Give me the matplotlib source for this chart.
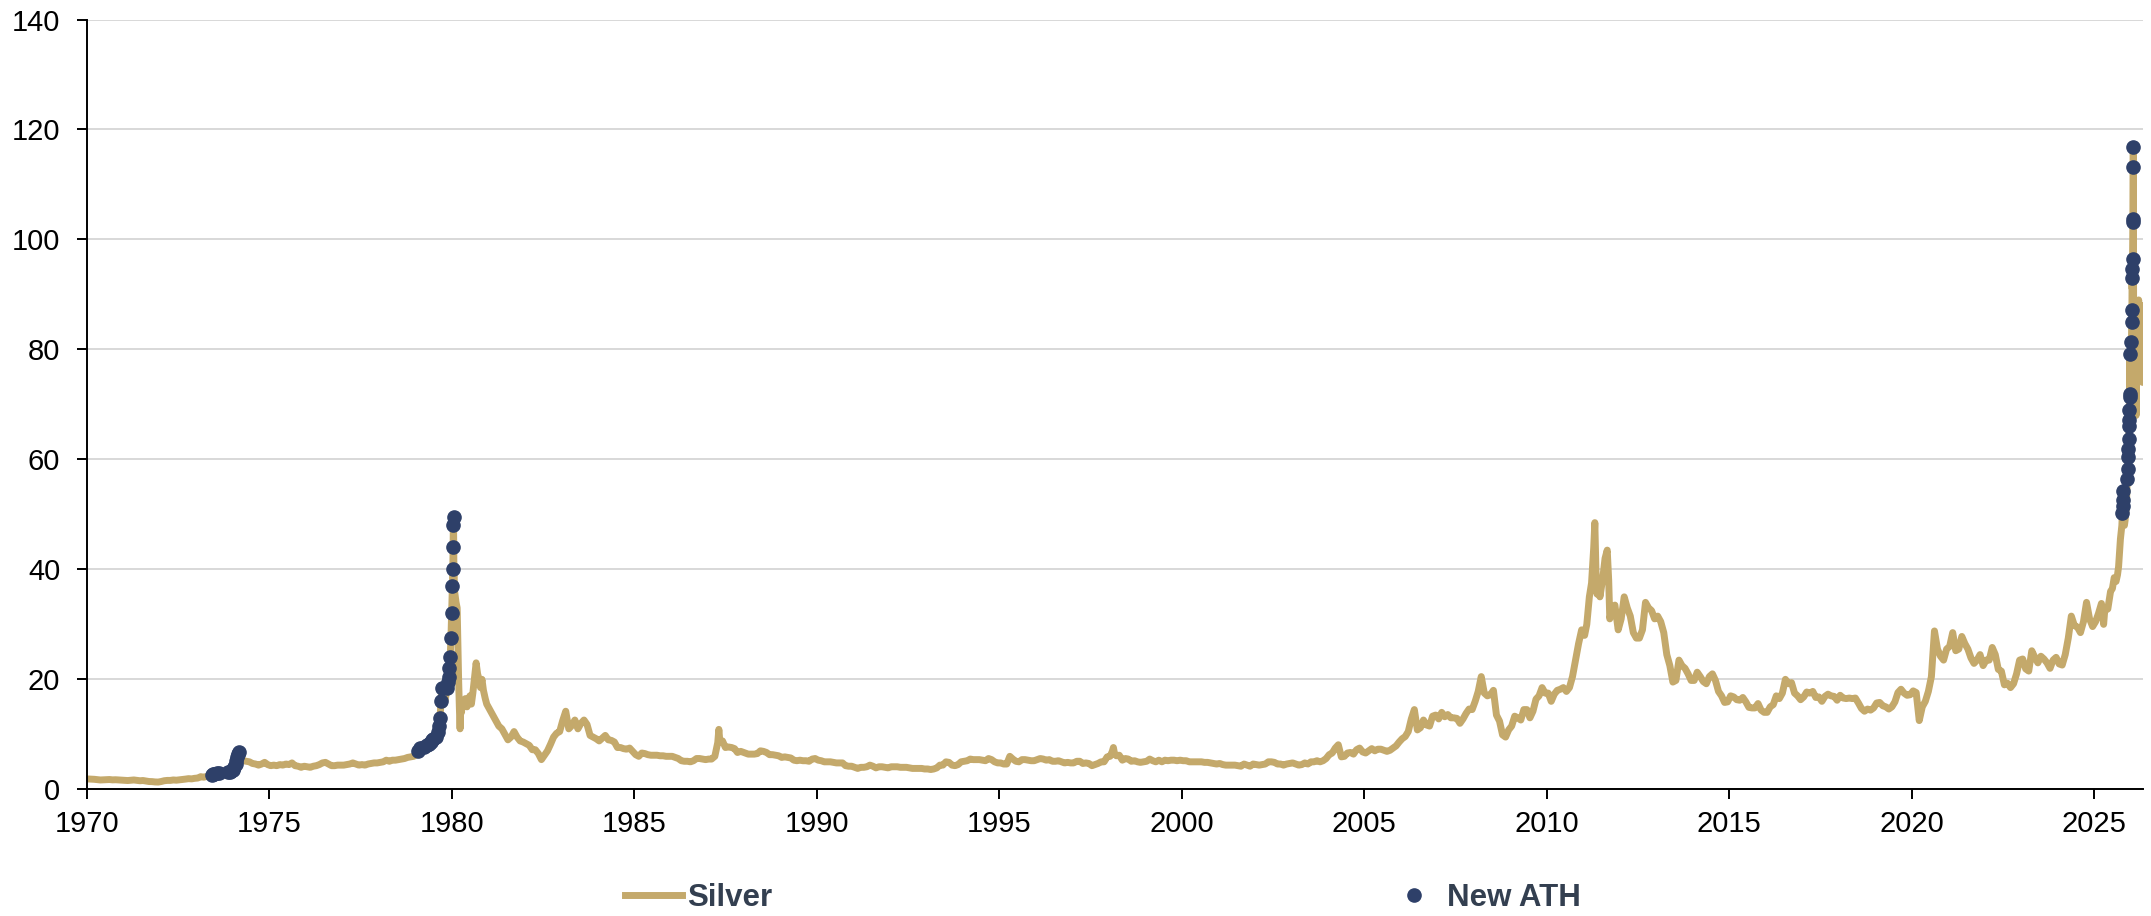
import matplotlib
matplotlib.use("Agg")
import matplotlib.pyplot as plt
from matplotlib.lines import Line2D
import numpy as np

plt.rcParams['font.family'] = ['Liberation Sans', 'DejaVu Sans']

# silver price, USD/oz, monthly averages
p1970_73 = [1.88, 1.86, 1.82, 1.76, 1.70, 1.72, 1.74, 1.78, 1.72, 1.74, 1.70, 1.64,
            1.62, 1.60, 1.66, 1.70, 1.62, 1.56, 1.60, 1.52, 1.42, 1.40, 1.34, 1.32,
            1.42, 1.56, 1.62, 1.62, 1.70, 1.66, 1.72, 1.80, 1.86, 1.94, 1.90, 2.00,
            2.05, 2.30, 2.20, 2.35]
d1973 = [(1973.375, 2.50), (1973.42, 2.62), (1973.46, 2.75), (1973.50, 2.85), (1973.54, 2.75),
         (1973.58, 2.90), (1973.62, 3.05), (1973.67, 2.80), (1973.71, 2.70), (1973.75, 2.85),
         (1973.79, 2.95), (1973.83, 2.90), (1973.87, 3.10), (1973.92, 3.20), (1973.96, 3.25),
         (1974.00, 3.60), (1974.04, 4.00), (1974.08, 4.60), (1974.10, 5.20), (1974.12, 5.90),
         (1974.14, 6.40), (1974.16, 6.70), (1974.18, 5.80), (1974.21, 5.40), (1974.25, 5.60),
         (1974.29, 5.20)]
p1974b = [5.0, 4.7, 4.6, 4.4, 4.6, 4.9, 4.5]  # Jun-Dec 1974
p1975_78 = [4.3, 4.4, 4.3, 4.5, 4.4, 4.6, 4.5, 4.8, 4.3, 4.2, 4.0, 4.2,
            4.1, 4.0, 4.2, 4.3, 4.5, 4.8, 4.9, 4.6, 4.3, 4.3, 4.4, 4.4,
            4.4, 4.5, 4.6, 4.8, 4.6, 4.4, 4.5, 4.4, 4.6, 4.7, 4.8, 4.8,
            4.9, 5.0, 5.3, 5.1, 5.3, 5.3, 5.4, 5.5, 5.6, 5.8, 5.9, 6.0]
d1979 = [(1979.04, 6.3), (1979.08, 6.9), (1979.12, 7.6), (1979.17, 7.4), (1979.21, 7.5),
         (1979.25, 7.7), (1979.29, 7.6), (1979.33, 8.0), (1979.375, 8.3), (1979.42, 8.6),
         (1979.46, 8.9), (1979.50, 9.2), (1979.54, 9.0), (1979.58, 9.6), (1979.62, 10.5),
         (1979.65, 11.5), (1979.68, 13.0), (1979.71, 16.0), (1979.73, 18.4), (1979.75, 17.0),
         (1979.79, 15.5), (1979.83, 16.5), (1979.87, 18.5), (1979.90, 19.5), (1979.92, 20.5),
         (1979.94, 22.0), (1979.96, 24.0), (1979.98, 27.5), (1980.00, 32.0), (1980.02, 37.0),
         (1980.03, 40.0), (1980.04, 44.0), (1980.045, 48.0), (1980.05, 49.5), (1980.06, 41.0),
         (1980.08, 36.0), (1980.10, 35.0), (1980.12, 34.0), (1980.15, 33.0), (1980.17, 26.0),
         (1980.19, 20.0), (1980.21, 15.0), (1980.23, 11.0), (1980.25, 15.5), (1980.27, 14.0),
         (1980.29, 16.0), (1980.33, 15.0), (1980.375, 16.5), (1980.42, 15.0), (1980.46, 16.0),
         (1980.50, 17.0), (1980.54, 15.5), (1980.58, 17.5), (1980.62, 20.0), (1980.67, 23.0),
         (1980.71, 21.0), (1980.75, 20.0), (1980.79, 18.5), (1980.83, 20.0), (1980.87, 18.0),
         (1980.92, 16.5), (1980.96, 15.5)]
p1981_86 = [14.5, 13.5, 12.5, 11.5, 11.0, 10.0, 9.0, 9.5, 10.5, 9.5, 8.8, 8.6,
            8.3, 8.0, 7.2, 7.2, 6.5, 5.4, 6.2, 7.0, 8.2, 9.5, 10.2, 10.5,
            12.5, 14.2, 11.0, 11.6, 12.6, 11.0, 12.0, 12.6, 11.8, 9.8, 9.5, 9.2,
            8.8, 9.3, 9.8, 9.0, 8.9, 8.6, 7.6, 7.6, 7.4, 7.3, 7.5, 6.9,
            6.3, 6.0, 6.6, 6.5, 6.3, 6.2, 6.2, 6.2, 6.1, 6.1, 6.0, 6.0,
            6.0, 5.8, 5.6, 5.2, 5.1, 5.1, 5.0, 5.2, 5.6, 5.6, 5.5, 5.4]
d1987 = [(1987.04, 5.5), (1987.12, 5.5), (1987.21, 6.0), (1987.29, 8.5), (1987.32, 10.9),
         (1987.35, 8.5), (1987.42, 8.8), (1987.50, 7.6), (1987.58, 7.7), (1987.67, 7.6),
         (1987.75, 7.4), (1987.83, 6.7), (1987.92, 6.9)]
p1988_97 = [6.6, 6.4, 6.4, 6.4, 6.5, 7.0, 6.9, 6.7, 6.3, 6.3, 6.2, 6.1,
            5.8, 5.9, 5.8, 5.7, 5.3, 5.2, 5.3, 5.2, 5.2, 5.1, 5.5, 5.6,
            5.3, 5.2, 5.0, 5.0, 5.0, 4.9, 4.8, 4.8, 4.8, 4.3, 4.2, 4.2,
            4.0, 3.8, 4.0, 4.0, 4.1, 4.4, 4.2, 3.9, 4.1, 4.1, 4.0, 3.9,
            4.1, 4.1, 4.1, 4.0, 4.0, 4.0, 3.9, 3.8, 3.8, 3.8, 3.8, 3.7,
            3.7, 3.6, 3.7, 3.9, 4.4, 4.4, 5.0, 4.9, 4.4, 4.3, 4.5, 5.0,
            5.1, 5.2, 5.5, 5.4, 5.4, 5.4, 5.3, 5.2, 5.6, 5.4, 5.0, 4.8,
            4.8, 4.6, 4.6, 6.0, 5.5, 5.1, 5.0, 5.4, 5.4, 5.3, 5.2, 5.2,
            5.4, 5.6, 5.5, 5.3, 5.4, 5.1, 5.1, 5.2, 5.0, 4.8, 4.9, 4.8,
            4.8, 5.1, 5.1, 4.7, 4.8, 4.7, 4.3, 4.5, 4.7, 5.0, 5.0, 5.9]
d1998 = [(1998.04, 6.0), (1998.10, 6.9), (1998.13, 7.6), (1998.16, 6.5), (1998.21, 6.1),
         (1998.29, 6.2), (1998.375, 5.3), (1998.46, 5.6), (1998.54, 5.5), (1998.62, 5.1),
         (1998.71, 5.2), (1998.79, 5.0), (1998.87, 4.9), (1998.96, 5.0)]
p1999_2010 = [5.1, 5.5, 5.2, 5.0, 5.3, 5.0, 5.3, 5.2, 5.3, 5.3, 5.2, 5.3,
              5.2, 5.2, 5.0, 5.0, 5.0, 5.0, 5.0, 4.9, 4.9, 4.8, 4.7, 4.6,
              4.7, 4.5, 4.4, 4.4, 4.4, 4.4, 4.3, 4.2, 4.6, 4.4, 4.2, 4.6,
              4.5, 4.4, 4.5, 4.6, 5.0, 5.0, 4.9, 4.6, 4.6, 4.4, 4.6, 4.7,
              4.8, 4.6, 4.4, 4.5, 4.8, 4.6, 5.0, 5.0, 5.2, 5.0, 5.2, 5.6,
              6.3, 6.6, 7.5, 8.1, 5.9, 6.0, 6.6, 6.7, 6.4, 7.2, 7.5, 6.8,
              6.6, 7.0, 7.4, 7.0, 7.3, 7.3, 7.1, 6.9, 7.1, 7.5, 7.9, 8.6,
              9.2, 9.6, 10.5, 12.8, 14.5, 10.8, 11.2, 12.6, 11.7, 11.5, 13.3, 13.5,
              12.8, 14.0, 13.2, 13.6, 13.0, 13.0, 12.9, 12.0, 12.8, 13.8, 14.6, 14.5,
              16.0, 17.8, 20.5, 17.5, 17.0, 17.2, 18.0, 13.5, 12.4, 9.9, 9.5, 10.8,
              11.5, 13.3, 13.0, 12.6, 14.5, 14.5, 13.0, 14.2, 16.4, 17.0, 18.5, 17.5,
              17.5, 16.0, 17.3, 18.0, 18.2, 18.5, 17.8, 18.5, 20.5, 23.5, 26.5, 29.0]
d2011 = [(2011.04, 28.0), (2011.10, 30.0), (2011.17, 35.0), (2011.23, 37.5), (2011.29, 44.0),
         (2011.32, 48.5), (2011.35, 40.0), (2011.38, 35.5), (2011.42, 37.5), (2011.46, 35.0),
         (2011.54, 38.5), (2011.60, 42.0), (2011.66, 43.5), (2011.70, 38.0), (2011.73, 31.0),
         (2011.79, 33.0), (2011.87, 33.5), (2011.96, 29.0)]
p2012_24 = [31.0, 35.0, 33.0, 31.5, 28.5, 27.5, 27.5, 29.0, 34.0, 33.0, 32.5, 31.0,
            31.5, 30.5, 28.5, 24.5, 22.5, 19.5, 19.8, 23.5, 22.5, 22.0, 21.0, 19.8,
            19.8, 21.3, 20.5, 19.6, 19.2, 20.5, 21.0, 19.8, 17.8, 17.0, 15.8, 15.9,
            17.0, 16.8, 16.3, 16.2, 16.7, 15.9, 14.9, 14.8, 14.8, 15.6, 14.4, 14.0,
            14.0, 15.0, 15.4, 17.0, 16.5, 17.5, 20.0, 19.2, 19.4, 17.5, 17.0, 16.3,
            16.8, 17.7, 17.5, 17.8, 16.7, 16.8, 16.0, 16.9, 17.3, 17.0, 16.9, 16.2,
            17.1, 16.6, 16.5, 16.6, 16.5, 16.6, 15.7, 14.7, 14.2, 14.6, 14.4, 14.8,
            15.7, 15.8, 15.2, 15.0, 14.6, 15.0, 15.9, 17.6, 18.2, 17.5, 17.1, 17.2,
            17.9, 17.6, 12.5, 15.0, 16.0, 17.8, 20.5, 28.8, 25.5, 24.2, 23.5, 25.5,
            26.0, 28.5, 25.2, 25.5, 27.8, 26.5, 25.5, 23.9, 22.9, 23.5, 24.5, 22.5,
            23.5, 23.5, 25.8, 24.5, 21.8, 21.5, 19.0, 19.3, 18.5, 19.2, 21.0, 23.5,
            23.7, 21.9, 21.5, 25.2, 24.0, 23.0, 24.2, 23.7, 23.0, 22.0, 23.5, 24.0,
            22.8, 22.6, 24.5, 27.5, 31.5, 29.8, 29.5, 28.5, 30.5, 34.0, 31.0, 29.6]
d2025 = [(2025.04, 30.5), (2025.12, 32.0), (2025.20, 33.8), (2025.26, 30.0), (2025.29, 32.5),
         (2025.375, 32.8), (2025.45, 36.0), (2025.50, 36.5), (2025.55, 38.5), (2025.60, 37.8),
         (2025.64, 39.0), (2025.67, 40.5), (2025.70, 43.5), (2025.72, 45.5), (2025.74, 46.8),
         (2025.76, 48.0), (2025.775, 50.3), (2025.785, 51.5), (2025.79, 52.7), (2025.795, 54.2),
         (2025.80, 51.0), (2025.81, 48.5), (2025.83, 48.0), (2025.85, 49.0), (2025.87, 50.5),
         (2025.885, 51.5), (2025.895, 54.0), (2025.905, 56.4), (2025.915, 58.2), (2025.925, 57.0),
         (2025.935, 60.5), (2025.94, 61.9), (2025.95, 63.8), (2025.955, 66.1), (2025.96, 67.1),
         (2025.965, 69.0), (2025.97, 71.3), (2025.975, 71.9), (2025.98, 79.1), (2025.99, 72.0),
         (2025.995, 71.5), (2026.005, 74.0), (2026.015, 78.5), (2026.02, 81.4), (2026.03, 85.0),
         (2026.035, 87.1), (2026.04, 92.9), (2026.045, 91.0), (2026.05, 94.7), (2026.055, 96.4),
         (2026.06, 103.1), (2026.063, 103.8), (2026.068, 113.1), (2026.073, 116.8), (2026.078, 100.0),
         (2026.082, 85.0), (2026.09, 78.0), (2026.10, 72.0), (2026.11, 82.0), (2026.12, 88.5),
         (2026.13, 76.0), (2026.14, 80.0), (2026.15, 68.0), (2026.16, 74.0), (2026.175, 78.0),
         (2026.19, 86.0), (2026.205, 82.0), (2026.22, 89.0), (2026.235, 80.0), (2026.25, 75.0),
         (2026.265, 82.0), (2026.28, 77.0), (2026.295, 84.0), (2026.31, 88.0), (2026.325, 74.0),
         (2026.34, 80.0)]
prior_high = 2.56  # pre-1970 record (1968)

year_ticks = list(range(1970, 2026, 5))
price_ticks = list(range(0, 141, 20))


def monthly(start, vals, first_month=0):
    t = start + (np.arange(len(vals)) + first_month + 0.5) / 12
    return list(zip(t, vals))


series = (monthly(1970, p1970_73) + d1973 + monthly(1974, p1974b, 5) + monthly(1975, p1975_78)
          + d1979 + monthly(1981, p1981_86) + d1987 + monthly(1988, p1988_97) + d1998
          + monthly(1999, p1999_2010) + d2011 + monthly(2012, p2012_24) + d2025)
dates = np.array([s[0] for s in series])
prices = np.array([s[1] for s in series])

prev_max = np.maximum.accumulate(np.r_[prior_high, prices])[:-1]
ath = prices > prev_max

tan = '#C4A96B'
navy = '#2E4069'

fig = plt.figure(figsize=(21.51, 9.16), dpi=100)
ax = fig.add_axes([0.0403, 0.1383, 0.9560, 0.8404])
ax.plot(dates, prices, color=tan, lw=5.0, solid_joinstyle='round', solid_capstyle='round', zorder=2)
ax.plot(dates[ath], prices[ath], 'o', ls='none', color=navy, ms=9.5, zorder=3)

ax.set_xlim(1970, dates[-1])
ax.set_ylim(0, 140)
ax.set_xticks(year_ticks)
ax.set_yticks(price_ticks)
ax.yaxis.grid(True, color='#D6D6D6', lw=1.3)
ax.set_axisbelow(True)
for s in ['top', 'right']:
    ax.spines[s].set_visible(False)
for s in ['left', 'bottom']:
    ax.spines[s].set_linewidth(1.4)
ax.tick_params(axis='both', direction='out', length=7, width=1.4, labelsize=21)
ax.tick_params(axis='y', pad=12)
ax.tick_params(axis='x', pad=8)

handles = [Line2D([], [], color=tan, lw=5.0),
           Line2D([], [], marker='o', ls='none', color=navy, ms=9.5)]
fig.legend(handles, ['Silver', 'New ATH'], loc='center', bbox_to_anchor=(0.5128, 0.0197),
           ncol=2, frameon=False, prop={'weight': 'bold', 'size': 22.5},
           handlelength=1.84, handletextpad=0.16, columnspacing=19.6, labelcolor='#333F50')

fig.savefig('out.png', dpi=100)
